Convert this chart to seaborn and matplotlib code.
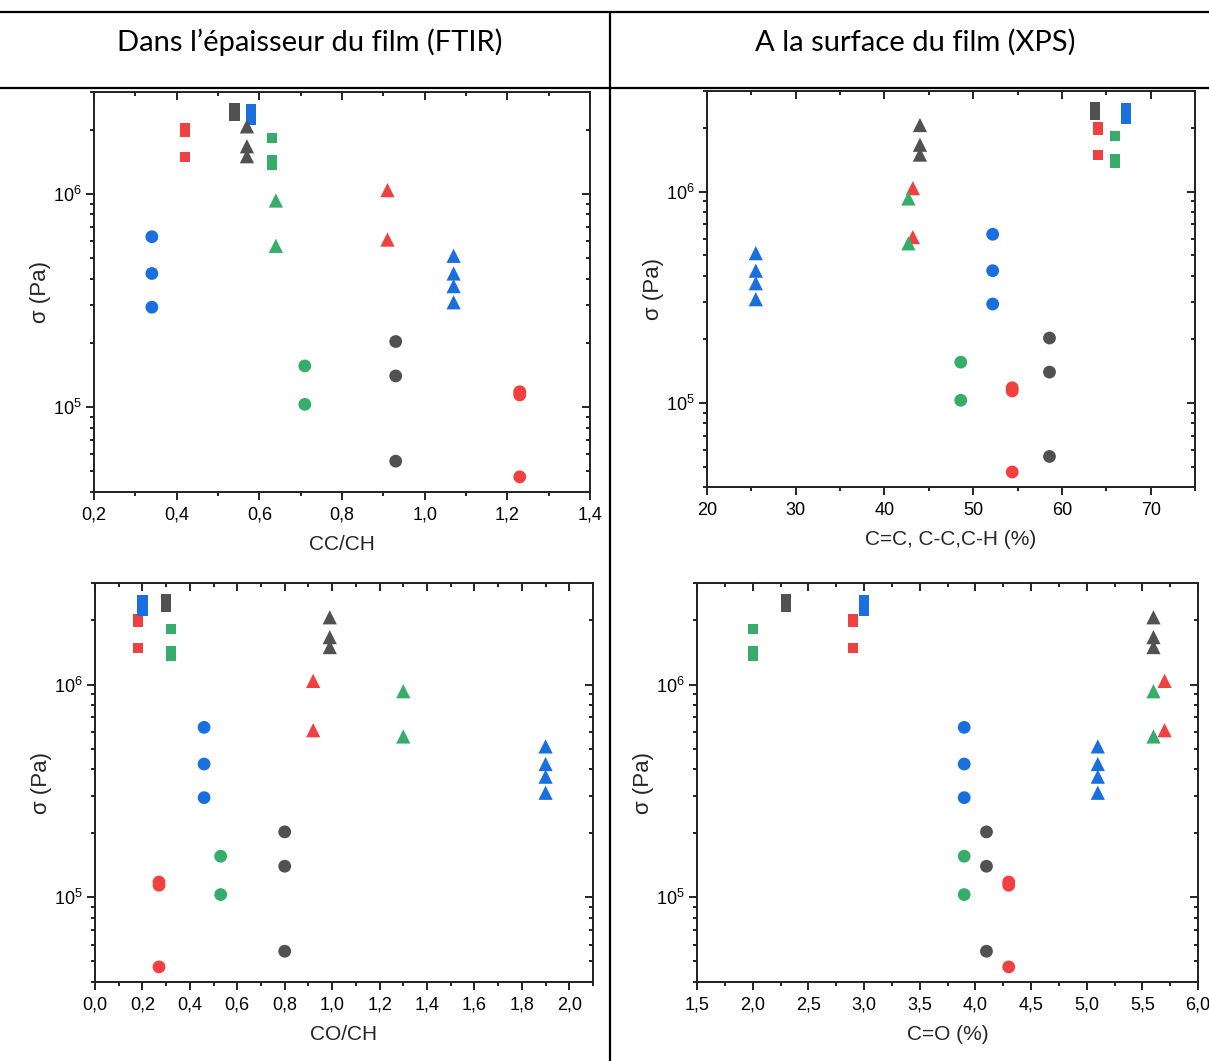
import numpy as np
import pandas as pd
import matplotlib
matplotlib.use("Agg")
import matplotlib.pyplot as plt
import seaborn as sns
from matplotlib.ticker import LogLocator, NullFormatter, FuncFormatter, MultipleLocator, LogFormatterSciNotation
from matplotlib.lines import Line2D

# ---------------- data ----------------
groups = ["gris_carre", "rouge_carre", "vert_carre", "bleu_carre",
          "gris_tri", "rouge_tri", "vert_tri", "bleu_tri",
          "gris_rond", "rouge_rond", "vert_rond", "bleu_rond"]
group_colour = ["gris", "rouge", "vert", "bleu"] * 3
group_shape = ["carre"] * 4 + ["tri"] * 4 + ["rond"] * 4

sigma_gris_carre = [2.52e6, 2.31e6]
sigma_rouge_carre = [2.02e6, 1.96e6, 1.49e6]
sigma_vert_carre = [1.83e6, 1.43e6, 1.37e6]
sigma_bleu_carre = [2.50e6, 2.35e6, 2.21e6]
sigma_gris_tri = [2.07e6, 1.67e6, 1.50e6]
sigma_rouge_tri = [1.04e6, 6.1e5]
sigma_vert_tri = [9.3e5, 5.7e5]
sigma_bleu_tri = [5.12e5, 4.23e5, 3.69e5, 3.10e5]
sigma_gris_rond = [2.03e5, 1.40e5, 5.58e4]
sigma_rouge_rond = [1.18e5, 1.14e5, 4.71e4]
sigma_vert_rond = [1.56e5, 1.03e5]
sigma_bleu_rond = [6.29e5, 4.23e5, 2.94e5]
sigmas = [sigma_gris_carre, sigma_rouge_carre, sigma_vert_carre, sigma_bleu_carre,
          sigma_gris_tri, sigma_rouge_tri, sigma_vert_tri, sigma_bleu_tri,
          sigma_gris_rond, sigma_rouge_rond, sigma_vert_rond, sigma_bleu_rond]

# x value of each group, per panel (same order as groups)
x_cc_ch = [0.54, 0.42, 0.63, 0.58, 0.57, 0.91, 0.64, 1.07, 0.93, 1.23, 0.71, 0.34]
x_cc_xps = [63.7, 64.1, 66.0, 67.2, 44.0, 43.2, 42.7, 25.5, 58.6, 54.4, 48.6, 52.2]
x_co_ch = [0.30, 0.18, 0.32, 0.20, 0.99, 0.92, 1.30, 1.90, 0.80, 0.27, 0.53, 0.46]
x_co_xps = [2.3, 2.9, 2.0, 3.0, 5.6, 5.7, 5.6, 5.1, 4.1, 4.3, 3.9, 3.9]

panel_names = ["CC/CH", "C=C, C-C,C-H (%)", "CO/CH", "C=O (%)"]
panel_x = [x_cc_ch, x_cc_xps, x_co_ch, x_co_xps]
headers = ["Dans l\u2019épaisseur du film (FTIR)", "A la surface du film (XPS)"]

palette = {"gris": "#515151", "rouge": "#F14040", "vert": "#37AD6B", "bleu": "#1A6FDF"}
shape_marker = {"carre": "s", "tri": "^", "rond": "o"}
shape_size = {"carre": 55, "tri": 105, "rond": 85}

rows = []
for p, xs in zip(panel_names, panel_x):
    for g, c, s, xv, sig in zip(groups, group_colour, group_shape, xs, sigmas):
        for v in sig:
            rows.append({"panel": p, "groupe": g, "couleur": c, "forme": s, "x": xv, "sigma": v})
df = pd.DataFrame(rows)

# ---------------- style ----------------
sns.set_style("ticks")
plt.rcParams["font.family"] = ["Liberation Sans", "DejaVu Sans"]
plt.rcParams["mathtext.default"] = "regular"

W, H = 1209, 1061
fig = plt.figure(figsize=(W / 100, H / 100), dpi=100)

def frac(l, t, r, b):
    return [l / W, 1 - b / H, (r - l) / W, (b - t) / H]

boxes = [frac(94, 92, 590, 492), frac(707, 91, 1195, 487),
         frac(95, 583, 593, 982), frac(697, 583, 1198, 982)]
xlims = [(0.2, 1.4), (20, 75), (0.0, 2.1), (1.5, 6.0)]
xmaj = [0.2, 10, 0.2, 0.5]
xmin = [0.1, 5, 0.1, 0.25]
xdec = [1, 0, 1, 1]
YLIM = (4.0e4, 3.0e6)

LW = 1.2
MAJ, MIN = 5.5, 3.0
for i, (box, name) in enumerate(zip(boxes, panel_names)):
    ax = fig.add_axes(box)
    sub = df[df["panel"] == name]
    for shape in ["carre", "tri", "rond"]:
        s2 = sub[sub["forme"] == shape]
        sns.scatterplot(data=s2, x="x", y="sigma", hue="couleur", palette=palette,
                        marker=shape_marker[shape], s=shape_size[shape],
                        edgecolor="none", linewidth=0, legend=False, ax=ax, zorder=3)
    ax.set_yscale("log")
    ax.set_ylim(*YLIM)
    ax.set_xlim(*xlims[i])
    ax.xaxis.set_major_locator(MultipleLocator(xmaj[i]))
    ax.xaxis.set_minor_locator(MultipleLocator(xmin[i]))
    d = xdec[i]
    ax.xaxis.set_major_formatter(FuncFormatter(lambda v, p, d=d: (f"{v:.{d}f}").replace(".", ",")))
    ax.yaxis.set_major_locator(LogLocator(base=10, numticks=10))
    ax.yaxis.set_minor_locator(LogLocator(base=10, subs=np.arange(2, 10), numticks=20))
    ax.yaxis.set_major_formatter(LogFormatterSciNotation())
    ax.yaxis.set_minor_formatter(NullFormatter())
    for sp in ax.spines.values():
        sp.set_linewidth(LW)
        sp.set_color("black")
    ax.tick_params(which="both", left=True, bottom=True, top=False, right=False)
    ax.tick_params(which="major", direction="out", length=MAJ, width=LW, labelsize=13,
                   pad=3, colors="black")
    ax.tick_params(axis="x", which="major", pad=5)
    ax.tick_params(which="minor", direction="out", length=MIN, width=LW, colors="black")
    ax.set_xlabel(name, fontsize=15, labelpad=8)
    ax.set_ylabel("\u03c3 (Pa)", fontsize=16, labelpad=1.5)

    # mirrored right axis, inward ticks
    axr = ax.twinx()
    axr.set_yscale("log")
    axr.set_ylim(*YLIM)
    axr.yaxis.set_major_locator(LogLocator(base=10, numticks=10))
    axr.yaxis.set_minor_locator(LogLocator(base=10, subs=np.arange(2, 10), numticks=20))
    axr.yaxis.set_minor_formatter(NullFormatter())
    axr.tick_params(which="both", left=False, right=True, labelright=False, labelleft=False)
    axr.tick_params(which="major", direction="in", length=MAJ, width=LW, colors="black")
    axr.tick_params(which="minor", direction="in", length=MIN, width=LW, colors="black")
    # mirrored top axis, inward ticks
    axt = ax.twiny()
    axt.set_xlim(*xlims[i])
    axt.xaxis.set_major_locator(MultipleLocator(xmaj[i]))
    axt.xaxis.set_minor_locator(MultipleLocator(xmin[i]))
    axt.tick_params(which="both", bottom=False, top=True, labeltop=False, labelbottom=False)
    axt.tick_params(which="major", direction="in", length=MAJ, width=LW, colors="black")
    axt.tick_params(which="minor", direction="in", length=MIN, width=LW, colors="black")
    for a in (axr, axt):
        for sp in a.spines.values():
            sp.set_linewidth(LW)
    axt.yaxis.set_visible(False)

# ---------------- table frame and headers ----------------
lw_t = 1.6
fig.add_artist(Line2D([0, 1], [1 - 12 / H, 1 - 12 / H], color="black", lw=lw_t, transform=fig.transFigure))
fig.add_artist(Line2D([0, 1], [1 - 88 / H, 1 - 88 / H], color="black", lw=lw_t, transform=fig.transFigure))
fig.add_artist(Line2D([610 / W, 610 / W], [0, 1 - 12 / H], color="black", lw=lw_t, transform=fig.transFigure))
fig.text(310 / W, 1 - 42 / H, headers[0], ha="center", va="center", fontsize=21,
         family=["Lato", "DejaVu Sans"], color="black")
fig.text(915 / W, 1 - 42 / H, headers[1], ha="center", va="center", fontsize=21,
         family=["Lato", "DejaVu Sans"], color="black")

fig.savefig("out.png", dpi=100)
